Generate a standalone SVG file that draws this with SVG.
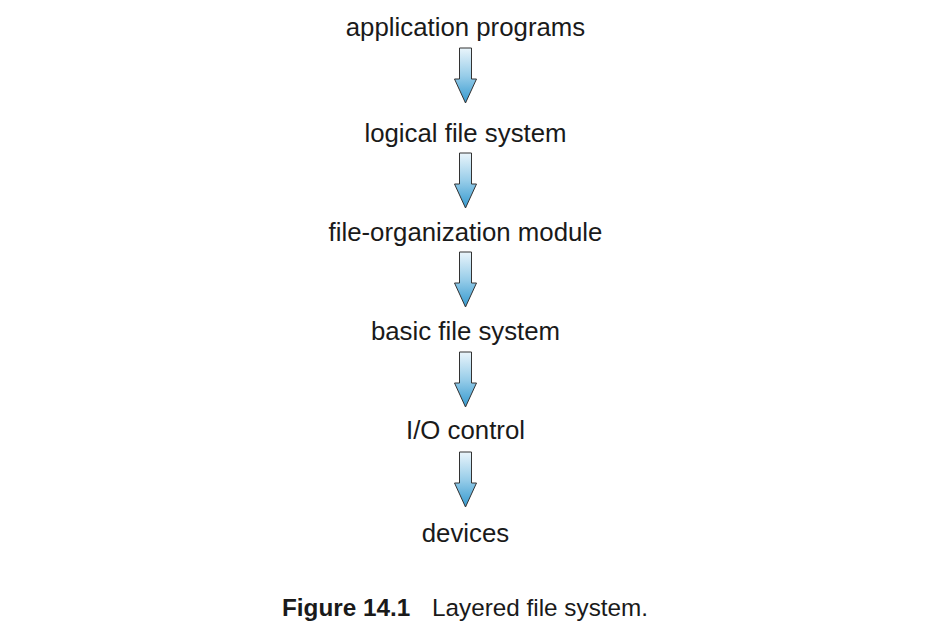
<svg xmlns="http://www.w3.org/2000/svg" width="926" height="632" viewBox="0 0 926 632">
<style>
.t{font-family:"Liberation Sans",Arial,sans-serif;font-size:25.8px;fill:#1a1a1a;text-anchor:middle}
.c{font-family:"Liberation Sans",Arial,sans-serif;font-size:24.3px;fill:#1a1a1a}
.a{fill:url(#g);stroke:#333;stroke-width:1;stroke-linejoin:miter}
</style>
<defs>
<linearGradient id="g" x1="0" y1="0" x2="0" y2="1">
<stop offset="0" stop-color="#eaf5fb"/>
<stop offset="0.5" stop-color="#98cde9"/>
<stop offset="1" stop-color="#3499cf"/>
</linearGradient>
<path id="arr" d="M-6,0 H6 V31 H11 L0,55 L-11,31 H-6 Z"/>
</defs>
<rect width="926" height="632" fill="#fff"/>
<g id="n1"><text class="t" x="465.5" y="36">application programs</text></g>
<g id="n2"><text class="t" x="465.5" y="142">logical file system</text></g>
<g id="n3"><text class="t" x="465.5" y="241">file-organization module</text></g>
<g id="n4"><text class="t" x="465.5" y="340">basic file system</text></g>
<g id="n5"><text class="t" x="465.5" y="439">I/O control</text></g>
<g id="n6"><text class="t" x="465.5" y="542">devices</text></g>
<g id="connectors">
<use href="#arr" class="a" x="465.5" y="48"/>
<use href="#arr" class="a" x="465.5" y="153"/>
<use href="#arr" class="a" x="465.5" y="252"/>
<use href="#arr" class="a" x="465.5" y="352"/>
<use href="#arr" class="a" x="465.5" y="452"/>
</g>
<g id="caption"><text class="c" x="282" y="616"><tspan font-weight="bold">Figure 14.1</tspan><tspan x="432">Layered file system.</tspan></text></g>
</svg>
